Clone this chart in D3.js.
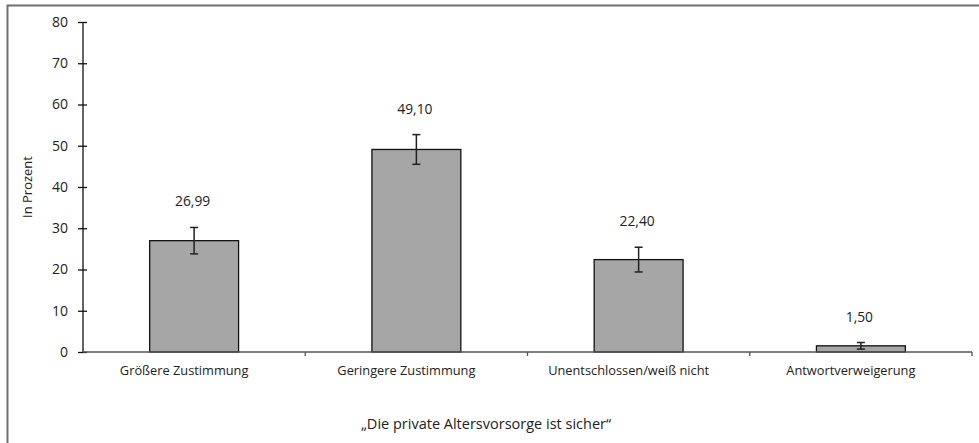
<!DOCTYPE html>
<html><head><meta charset="utf-8">
<script src="https://cdn.jsdelivr.net/npm/d3@7"></script>
<style>body{margin:0;background:#fff}svg{display:block}text{font-family:"Open Sans","Noto Sans",sans-serif;fill:#222}</style>
</head><body>
<svg id="c" width="979" height="443"></svg>
<script>
const categories = ["Größere Zustimmung","Geringere Zustimmung","Unentschlossen/weiß nicht","Antwortverweigerung"];
const values = [26.99, 49.10, 22.40, 1.50];
const errors = [3.2, 3.6, 3.0, 0.8];
const valueLabels = ["26,99","49,10","22,40","1,50"];
const yTicks = [0,10,20,30,40,50,60,70,80];
const yTitle = "In Prozent";
const xTitle = "„Die private Altersvorsorge ist sicher“";

const svg = d3.select("#c");
const pLeft = 83, pRight = 972, pTop = 22, pBottom = 352;

svg.append("rect").attr("x",7.5).attr("y",5.5).attr("width",1000).attr("height",480)
  .attr("fill","none").attr("stroke","#707070").attr("stroke-width",2);

const x = d3.scaleBand().domain(categories).range([pLeft,pRight]).padding(0);
const y = d3.scaleLinear().domain([0,80]).range([pBottom,pTop]);
const bw = x.bandwidth()*0.4;

// bars
svg.selectAll("rect.bar").data(values).join("rect").attr("class","bar")
  .attr("x",(d,i)=>x(categories[i])+x.bandwidth()/2-bw/2)
  .attr("y",d=>y(d)).attr("width",bw).attr("height",d=>y(0)-y(d))
  .attr("fill","#a6a6a6").attr("stroke","#111").attr("stroke-width",1.3);

// error bars
const eg = svg.append("g").attr("stroke","#222").attr("stroke-width",1.5);
values.forEach((v,i)=>{
  const cx = x(categories[i])+x.bandwidth()/2;
  eg.append("line").attr("x1",cx).attr("x2",cx).attr("y1",y(v+errors[i])).attr("y2",y(v-errors[i]));
  eg.append("line").attr("x1",cx-4).attr("x2",cx+4).attr("y1",y(v+errors[i])).attr("y2",y(v+errors[i]));
  eg.append("line").attr("x1",cx-4).attr("x2",cx+4).attr("y1",y(v-errors[i])).attr("y2",y(v-errors[i]));
  svg.append("text").attr("x",cx-1.5).attr("y",y(v+errors[i])-21).attr("text-anchor","middle")
    .attr("font-size",13.8).text(valueLabels[i]);
});

// y axis
const yAxis = svg.append("g").attr("transform",`translate(${pLeft},0)`)
  .call(d3.axisLeft(y).tickValues(yTicks).tickSize(5).tickPadding(10));
yAxis.select(".domain").attr("stroke","#111").attr("stroke-width",1.3).attr("d",`M0,${pTop}V${pBottom}`);
yAxis.selectAll(".tick line").attr("x1",4).attr("x2",-5).attr("stroke","#111").attr("stroke-width",1.3);
yAxis.selectAll(".tick text").attr("font-size",14).attr("fill","#222").style("font-family","'Open Sans','Noto Sans',sans-serif");

// x axis
const xAxis = svg.append("g").attr("transform",`translate(0,${pBottom})`)
  .call(d3.axisBottom(x).tickSize(0).tickPadding(14));
xAxis.select(".domain").attr("stroke","#555").attr("stroke-width",1.3).attr("d",`M${pLeft},0H${pRight}`);
xAxis.selectAll(".tick text").attr("font-size",12.8).attr("dx",-10).attr("fill","#222").style("font-family","'Open Sans','Noto Sans',sans-serif");
const bounds = categories.map(c=>x(c)).concat([pRight]).slice(1);
svg.append("g").selectAll("line").data(bounds).join("line")
  .attr("x1",d=>d).attr("x2",d=>d).attr("y1",pBottom).attr("y2",pBottom+4)
  .attr("stroke","#555").attr("stroke-width",1.3);

svg.append("text").attr("transform",`translate(32,${(pTop+pBottom)/2}) rotate(-90)`)
  .attr("text-anchor","middle").attr("font-size",13).text(yTitle);
svg.append("text").attr("x",486).attr("y",429).attr("text-anchor","middle")
  .attr("font-size",14.5).text(xTitle);
</script>
</body></html>
